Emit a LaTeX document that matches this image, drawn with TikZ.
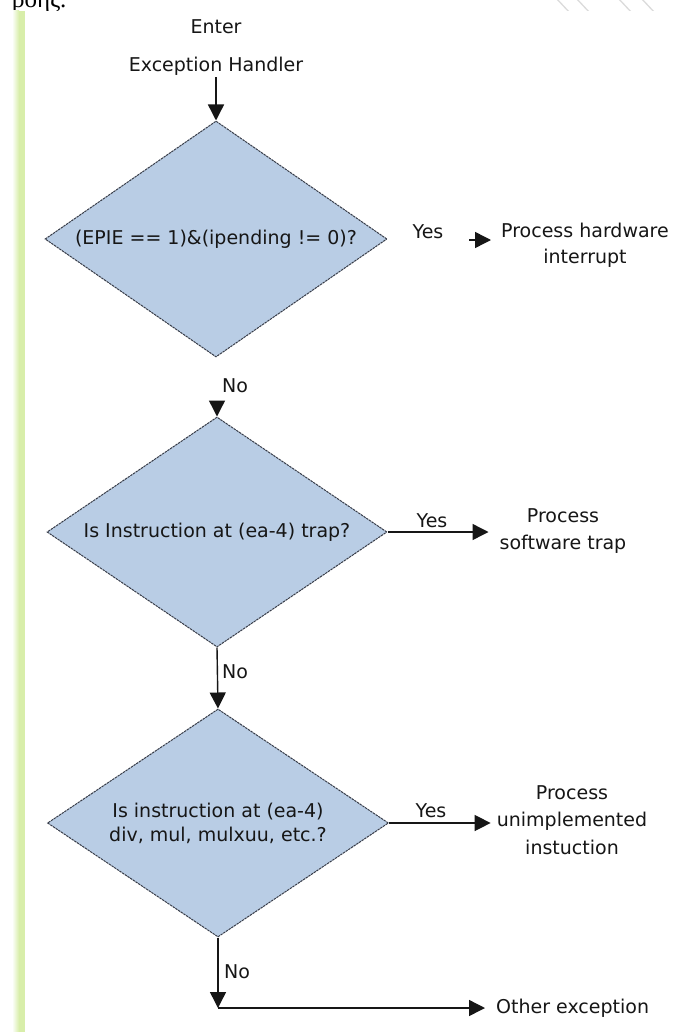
\documentclass[tikz,border=0pt]{standalone}
\usepackage{fontspec}
\setmainfont{DejaVu Sans}
\newfontfamily\greekserif{Liberation Serif}
\usetikzlibrary{shapes.geometric,arrows.meta,calc}
\definecolor{decfill}{RGB}{185,205,229}
\definecolor{decline}{RGB}{55,60,72}
\definecolor{barGreen}{RGB}{216,238,170}
\definecolor{inkc}{RGB}{22,22,22}
\newcommand\flowfont{\fontsize{19}{26}\selectfont}
\begin{document}
\begin{tikzpicture}[x=1pt,y=-1pt,
  decision/.style={diamond, aspect=1.46, fill=decfill, draw=decline,
    line width=1pt, dash pattern=on 2.4pt off 0.8pt, inner sep=0pt,
    align=center, text=inkc, font=\flowfont},
  lbl/.style={inner sep=0pt, text=inkc, font=\flowfont, align=center},
  arr/.style={draw=inkc, line width=1.4pt, -{Triangle[length=16pt,width=16pt]}},
]
\useasboundingbox (0,0) rectangle (698,1032);
\fill[white] (0,0) rectangle (698,1032);

% end of the previous line of text and the page edge above the figure
\begin{scope}
  \clip (0,0) rectangle (698,11);
  \node[anchor=base west, inner sep=0pt, text=black,
        font=\greekserif\fontsize{25}{25}\selectfont] (prevline) at (12,7.5) {ροής.};
  \foreach \hx in {556,576,618,641}
    \draw[gray!28, line width=1.3pt] (\hx,-2) -- (\hx+14,13);
\end{scope}

% margin bar
\shade[left color=white, right color=barGreen] (12,11) rectangle (19,1032);
\fill[barGreen] (19,11) rectangle (25,1032);

% start
\node[lbl, font=\fontsize{19}{38}\selectfont] (start) at (216,48) {Enter\\Exception Handler};

% decisions
\node[decision, minimum width=342pt, minimum height=236pt] (d1) at (216,239)
  {(EPIE == 1)\&(ipending != 0)?};
\node[decision, minimum width=340pt, minimum height=230pt] (d2) at (217,532)
  {Is Instruction at (ea-4) trap?};
\node[decision, minimum width=341pt, minimum height=228pt] (d3) at (218,823)
  {Is instruction at (ea-4)\\[-2pt]div, mul, mulxuu, etc.?};

% outcomes
\node[lbl] (hw) at (585,245) {Process hardware\\interrupt};
\node[lbl, font=\fontsize{19}{27}\selectfont] (sw) at (563,531) {Process\\software trap};
\node[lbl, font=\fontsize{19}{27.5}\selectfont] (ui) at (572,820) {Process\\unimplemented\\instuction};
\node[lbl, anchor=west] (oe) at (496,1008) {Other exception};

% branch labels
\node[lbl, anchor=base] (y1) at (428,238) {Yes};
\node[lbl, anchor=base] (y2) at (432,527) {Yes};
\node[lbl, anchor=base] (y3) at (431,817) {Yes};
\node[lbl, anchor=base west] (n1) at (222,392) {No};
\node[lbl, anchor=base west] (n2) at (222,678) {No};
\node[lbl, anchor=base west] (n3) at (224,978) {No};

% connectors
\coordinate (y1tail) at (469,240);
\coordinate (n1tail) at (217,401);
\coordinate (corner) at (218,1008);

\draw[arr] ([yshift=-1pt]start.south) -- (d1.north);
\draw[arr, shorten >=10pt] (y1tail) -- (y1tail -| hw.west);
\draw[arr] (n1tail) -- (d2.north);
\draw[arr, shorten >=11pt] (d2.east) -- (d2.east -| sw.west);
\draw[arr] (d2.south) -- (d3.north);
\draw[arr, shorten >=6pt] (d3.east) -- (d3.east -| ui.west);
\draw[arr] (d3.south) -- (corner);
\draw[arr, shorten >=11pt] (corner) -- (oe.west);
\end{tikzpicture}
\end{document}
